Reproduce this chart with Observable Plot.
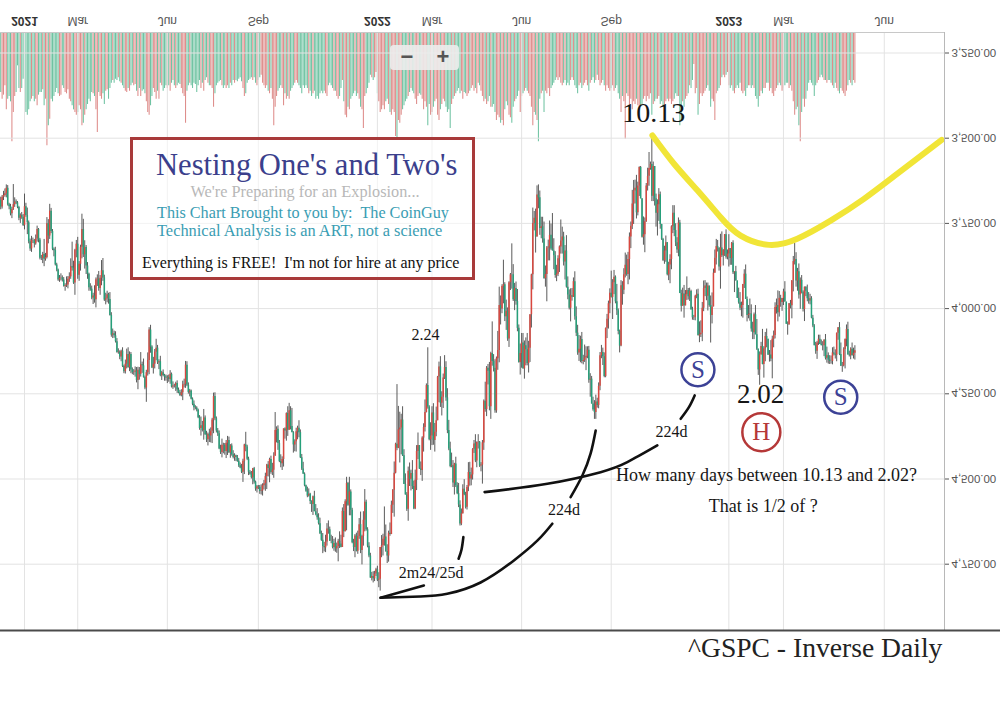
<!DOCTYPE html>
<html>
<head>
<meta charset="utf-8">
<script src="https://cdn.jsdelivr.net/npm/d3@7"></script>
<script src="https://cdn.jsdelivr.net/npm/@observablehq/plot@0.6"></script>
<style>
html,body{margin:0;padding:0;background:#fff;}
#wrap{position:relative;width:1000px;height:728px;overflow:hidden;background:#fff;}
#overlay text{white-space:pre;}
</style>
</head>
<body>
<div id="wrap">
<svg id="overlay" width="1000" height="728" style="position:absolute;left:0;top:0;z-index:5;pointer-events:none" font-family="'Liberation Serif','Times New Roman',serif">
  <line x1="0" y1="32.5" x2="944" y2="32.5" stroke="#c8c8c8"/>
  <line x1="944.5" y1="32" x2="944.5" y2="630" stroke="#b8b8b8"/>
  <line x1="0" y1="630.5" x2="1000" y2="630.5" stroke="#4a4a4a" stroke-width="2"/>
  <rect x="390" y="45" width="69" height="25" rx="4" fill="rgba(236,236,236,0.9)"/>
  <text x="407" y="64" font-size="22" font-weight="bold" fill="#555" text-anchor="middle" font-family="'Liberation Sans',Arial,sans-serif">−</text>
  <text x="443" y="64" font-size="22" font-weight="bold" fill="#555" text-anchor="middle" font-family="'Liberation Sans',Arial,sans-serif">+</text>
  <rect x="131.5" y="138.5" width="342" height="140" fill="rgba(255,255,255,0.55)" stroke="#a83a3a" stroke-width="3"/>
  <text x="156" y="175" font-size="30.6" fill="#3b3f8c">Nesting One's and Two's</text>
  <text x="190.5" y="197" font-size="16.3" fill="#b8b8b8">We're Preparing for an Explosion...</text>
  <text x="157" y="217.5" font-size="16.2" fill="#3a9db3">This Chart Brought to you by:  The CoinGuy</text>
  <text x="157" y="235.5" font-size="16.4" fill="#3a9db3">Technical Analysis is an ART, not a science</text>
  <text x="142" y="268" font-size="16" fill="#111">Everything is FREE!  I'm not for hire at any price</text>
  <text x="688" y="657" font-size="27.6" fill="#222">^GSPC - Inverse Daily</text>
</svg>
</div>
<script>
// ---------- S&P 500 daily bars, Dec 8 2020 .. May 12 2023 (open = previous close) ----------
const firstOpen = 3683;
const close2020 = [3702,3673,3668,3663,3647,3695,3701,3722,3709,3695,3687,3690,3703,3735,3727,3732,3756];
const close2021 = [
3701,3727,3748,3804,3825,3800,3801,3810,3796,3768,3799,3852,3853,3841,3855,3850,3751,3787,3714,
3774,3826,3830,3872,3887,3916,3911,3910,3916,3935,3933,3931,3914,3907,3877,3881,3925,3829,3811,
3902,3870,3820,3768,3842,3821,3875,3899,3939,3943,3969,3963,3974,3915,3913,3941,3911,3889,3910,3975,3971,3959,3973,
4020,4078,4074,4080,4097,4129,4128,4142,4125,4170,4185,4163,4135,4173,4135,4180,4188,4187,4183,4211,4181,
4193,4165,4168,4202,4233,4188,4152,4063,4113,4174,4163,4128,4116,4159,4156,4197,4188,4196,4201,4204,
4202,4208,4193,4230,4227,4227,4220,4239,4247,4255,4247,4224,4222,4166,4225,4246,4242,4266,4281,4291,4292,4298,
4320,4352,4344,4358,4321,4370,4385,4369,4374,4360,4327,4258,4323,4359,4367,4412,4422,4401,4401,4419,4395,
4387,4423,4403,4429,4437,4432,4437,4448,4461,4468,4480,4448,4400,4406,4442,4480,4486,4496,4470,4509,4529,4523,
4524,4537,4535,4520,4514,4493,4459,4469,4443,4481,4474,4433,4358,4354,4396,4449,4455,4443,4353,4359,4308,
4357,4300,4346,4364,4400,4391,4361,4351,4364,4438,4471,4486,4520,4536,4550,4545,4566,4575,4552,4596,4605,
4614,4631,4661,4680,4698,4702,4685,4647,4649,4683,4683,4701,4689,4705,4698,4683,4691,4701,4595,4655,4567,
4513,4577,4538,4592,4687,4701,4667,4712,4669,4634,4710,4669,4621,4568,4649,4697,4726,4791,4786,4793,4779,4766];
const close2022 = [
4797,4794,4701,4696,4677,4670,4713,4726,4659,4663,4577,4533,4483,4398,4410,4356,4350,4327,4432,4516,
4547,4589,4477,4501,4484,4522,4587,4504,4419,4402,4471,4475,4380,4349,4305,4226,4289,4385,4374,
4306,4387,4363,4329,4201,4171,4278,4260,4204,4173,4262,4358,4412,4463,4461,4512,4456,4520,4543,4576,4632,4602,4530,
4546,4583,4525,4481,4500,4488,4413,4397,4447,4393,4392,4462,4459,4394,4272,4296,4175,4184,4288,4132,
4155,4175,4300,4147,4123,3991,4001,3935,3930,4024,4008,4089,3924,3901,3901,3974,3941,3979,4058,4158,4132,
4101,4177,4109,4121,4161,4116,4018,3901,3750,3735,3790,3667,3675,3765,3760,3796,3912,3900,3822,3819,3785,
3825,3831,3845,3903,3899,3854,3819,3802,3790,3863,3831,3937,3960,3999,3962,3967,3921,4024,4072,4130,
4119,4091,4155,4152,4145,4140,4122,4210,4207,4280,4297,4305,4274,4284,4228,4138,4129,4141,4199,4058,4031,3986,3955,
3967,3924,3908,3980,4006,4067,4110,3933,3946,3901,3873,3900,3856,3790,3758,3693,3655,3647,3719,3640,3586,
3678,3791,3783,3745,3640,3612,3589,3577,3670,3583,3678,3720,3695,3666,3753,3797,3859,3831,3807,3901,3872,
3856,3760,3720,3771,3807,3828,3749,3956,3993,3957,3992,3959,3947,3965,3950,4004,4027,4026,3964,3958,4080,
4077,4072,3999,3941,3934,3964,3934,3991,4020,3995,3896,3852,3818,3822,3878,3822,3845,3829,3783,3849,3840];
const close2023 = [
3824,3853,3808,3895,3892,3919,3970,3983,3999,3991,3929,3899,3973,4020,4017,4016,4060,4071,4018,4077,
4119,4180,4136,4111,4164,4118,4082,4090,4137,4136,4148,4090,4079,3997,3991,4012,3970,3982,3970,
3951,3981,4046,4048,3986,3992,3918,3862,3856,3919,3892,3960,3917,3952,4003,3937,3949,3971,3978,3971,4028,4051,4109,
4125,4101,4090,4105,4109,4109,4092,4146,4138,4151,4155,4155,4130,4134,4137,4072,4056,4135,4169,
4168,4120,4091,4061,4136,4138,4119,4138,4131,4124];

// upper wick (high above body) and lower wick (low below body), index points
const hw2020 = [8,6,10,5,12,4,9,6,14,3,8,5,4,7,15,6,3];
const lw2020 = [10,5,12,14,10,8,4,7,6,59,12,6,4,3,5,9,8];
const hw2021 = [
13,5,35,6,7,10,8,12,4,9,8,5,6,15,22,6,4,23,10,
6,4,18,3,5,4,7,8,6,2,14,5,11,9,7,9,4,36,22,
12,18,20,34,8,42,25,15,10,6,5,19,10,24,20,8,20,22,10,4,14,12,14,
2,6,10,7,4,2,5,8,14,3,6,7,14,2,12,11,6,8,14,7,27,
17,8,22,2,5,42,10,42,18,2,18,14,25,5,20,3,14,4,12,9,
16,8,14,3,7,6,16,10,3,3,4,23,9,12,4,5,13,2,4,9,5,5,
3,5,22,4,28,2,8,18,19,20,36,40,6,6,8,2,6,16,25,11,21,
36,2,16,4,4,11,12,3,5,2,4,30,39,14,4,10,3,4,21,6,7,12,
7,8,10,15,12,22,38,25,42,5,9,24,0,36,20,3,12,20,22,24,30,
18,0,10,0,24,20,30,24,15,2,4,0,3,3,5,3,9,23,32,0,3,
7,4,2,3,21,12,14,12,13,0,7,4,11,10,13,45,13,1,0,17,0,
85,3,31,16,3,12,30,2,9,8,9,42,28,34,4,5,5,0,8,12,8,7];
const lw2021 = [
37,10,22,5,8,12,7,4,12,10,3,5,8,6,44,12,18,12,20,
8,6,4,10,5,3,8,12,6,7,6,24,8,12,23,72,20,3,11,
20,8,6,45,30,20,6,10,3,12,9,8,30,5,12,22,8,30,36,8,16,10,4,
20,8,14,8,12,9,10,4,3,10,4,12,16,20,8,6,6,8,12,10,9,
8,36,8,20,4,7,22,7,14,4,20,8,26,8,6,16,4,8,3,6,
5,7,11,4,12,5,4,8,6,7,9,11,15,11,10,7,5,3,4,10,6,4,
3,6,26,13,25,6,10,4,15,10,5,10,11,5,7,8,11,18,6,5,8,
12,10,4,6,12,6,2,6,8,8,11,6,2,37,5,6,5,8,1,4,3,4,
4,5,18,6,10,10,2,10,4,10,20,10,53,7,10,9,20,8,0,3,2,
20,22,12,53,3,6,10,6,22,8,10,20,4,2,12,16,3,2,2,16,21,
18,12,16,8,20,12,20,16,24,8,18,14,12,16,10,6,28,26,10,20,6,
18,3,43,6,6,10,4,8,16,18,37,4,25,37,6,6,10,8,12,14,8,4];
const hw2022 = [
4,22,35,30,30,20,2,22,18,5,0,24,79,2,7,1,97,79,2,0,
0,6,35,21,34,9,3,3,30,24,1,15,32,41,13,1,6,3,31,
28,14,34,13,0,75,12,37,33,4,10,9,5,4,4,13,35,5,3,8,6,5,1,
3,5,8,12,21,20,15,12,5,20,19,4,17,56,22,8,21,40,12,37,
14,11,7,7,34,36,47,14,51,14,40,7,25,23,42,5,32,11,10,2,37,
43,0,30,47,7,28,42,39,44,22,47,0,32,20,30,12,2,25,80,38,41,
4,0,41,8,18,7,40,21,38,12,53,3,14,5,40,11,0,10,10,7,
25,40,7,10,6,37,7,9,50,0,4,20,20,8,10,13,9,26,4,4,30,29,29,
2,65,35,6,14,10,20,2,44,13,9,5,30,60,34,10,60,38,18,9,31,
0,2,23,53,2,15,29,5,16,16,21,41,67,49,14,3,3,11,33,3,17,
55,30,20,18,11,10,20,0,17,0,36,0,17,10,14,0,7,8,10,7,0,
20,8,25,10,24,13,43,5,81,25,0,0,20,12,12,65,5,30,18,6,8];
const lw2022 = [
10,19,0,30,15,88,35,20,6,30,12,2,33,3,175,69,46,17,39,18,
31,7,12,24,10,38,16,30,17,37,0,21,4,11,37,5,111,4,39,
18,27,26,40,2,14,30,16,12,35,17,27,30,20,37,15,2,20,9,30,12,14,13,
28,7,6,29,30,20,2,10,27,2,22,2,7,7,4,56,5,11,26,4,
93,20,25,5,56,54,28,5,72,6,33,10,3,4,91,30,15,19,35,10,28,
28,28,14,23,48,20,0,2,45,20,27,27,30,20,28,28,50,25,4,20,42,
33,104,36,12,26,9,3,62,29,14,16,45,30,15,20,21,11,29,29,23,
40,10,21,15,38,28,10,11,16,8,20,27,20,11,10,9,21,13,11,1,14,8,13,
65,9,20,4,51,5,4,15,12,18,36,30,21,12,12,40,31,24,38,11,2,
3,0,52,11,7,24,47,7,86,13,0,14,14,18,8,0,3,14,20,1,8,
14,3,22,22,20,15,15,8,10,17,25,12,40,6,10,4,8,6,3,13,15,
38,36,17,22,16,9,9,0,28,41,12,24,21,18,0,40,47,2,0,14,12];
const hw2023 = [
38,20,20,5,58,0,0,4,7,25,37,12,0,19,10,20,9,20,20,0,
4,16,45,0,1,40,38,25,0,20,8,58,25,10,19,27,13,14,26,
21,0,0,30,0,9,38,33,10,18,30,12,42,5,7,35,16,9,9,11,2,5,0,
9,24,7,0,0,15,32,5,14,12,9,8,10,5,11,19,21,3,1,
18,3,57,21,0,4,12,1,10,20];
const lw2023 = [
41,0,2,7,0,16,0,30,30,10,0,13,27,7,26,44,27,20,5,27,
45,0,9,12,50,6,12,22,0,13,42,9,13,14,19,43,20,9,0,
8,30,0,7,1,10,0,15,47,20,10,23,7,14,4,0,1,18,18,13,6,8,4,
10,5,12,12,13,12,0,16,25,8,13,16,15,17,13,0,0,15,34,
10,5,2,13,21,11,4,18,15,15];

// volume (hundreds of millions of shares)
const vol2020 = [45,50,47,40,58,50,48,52,82,60,48,45,25,42,45,42,35];
const vol2021 = [
55,60,62,58,52,50,48,52,50,55,47,45,45,43,55,50,85,70,65,
50,52,48,45,42,46,48,47,40,42,45,46,43,50,52,55,58,60,62,
60,55,58,70,68,62,58,54,50,52,45,46,48,58,75,45,48,50,46,54,44,43,50,
42,38,36,38,35,36,34,37,38,40,42,44,45,42,44,40,38,40,39,44,48,
42,48,44,43,46,52,60,62,55,48,42,45,50,44,50,38,40,44,42,40,
42,40,44,38,36,40,42,40,38,39,42,46,48,68,44,40,38,40,42,38,39,45,
40,36,42,38,44,36,34,38,40,40,42,56,46,40,38,37,36,40,42,40,42,
40,42,38,40,36,38,36,37,35,34,37,42,48,46,38,36,35,34,36,34,38,40,
36,34,32,38,40,42,40,44,46,42,50,70,56,48,44,42,40,42,55,46,50,
48,50,44,42,40,38,36,38,40,42,46,40,42,40,42,46,44,48,46,44,50,
48,50,46,44,46,44,46,48,40,38,40,42,44,44,48,50,48,42,36,52,62,
64,56,58,50,48,46,44,48,46,50,56,58,72,48,46,42,38,32,34,36,34,30];
const vol2022 = [
46,52,60,58,55,58,52,50,54,60,62,58,60,78,80,66,68,62,58,55,
52,50,48,45,42,44,46,50,54,48,46,47,50,58,52,56,70,54,62,
60,56,52,50,62,66,58,54,50,52,56,60,58,72,54,50,48,46,44,42,46,44,50,
45,46,48,46,44,42,40,44,42,46,38,40,44,48,52,50,54,52,48,56,
56,54,60,66,62,64,68,66,70,58,52,55,62,64,68,56,52,50,48,44,60,
48,46,44,42,44,46,48,56,70,60,62,66,82,50,46,44,60,44,46,42,48,
42,40,38,36,34,36,34,38,40,38,36,40,38,40,36,34,36,40,42,46,
40,38,42,40,38,36,40,44,38,36,34,38,36,32,36,40,38,36,40,44,40,42,44,
42,40,44,42,40,46,50,60,48,52,80,46,48,54,50,58,52,54,50,55,58,
56,54,50,48,52,48,50,46,62,54,52,50,50,48,54,52,56,54,52,50,52,
50,54,52,50,46,48,48,70,66,52,56,50,48,46,40,42,36,24,46,42,62,
54,46,48,46,44,42,40,44,56,50,52,66,46,44,42,40,34,32,34,32,30];
const vol2023 = [
40,42,40,44,46,42,40,42,38,44,46,44,48,42,40,40,42,40,42,48,
50,56,48,44,46,42,42,38,38,44,42,46,48,44,42,40,38,40,44,
42,40,38,38,42,40,44,52,62,58,56,70,82,60,50,56,50,44,38,36,38,40,48,
40,38,36,34,32,34,36,36,38,36,36,38,40,42,38,42,44,46,42,
44,46,48,44,40,36,38,40,36,38];

// axis ticks (bar index of first session of each period) and labels
const tickIndex = [17, 55, 119, 184, 269, 308, 372, 436, 520, 559, 631];
const tickLabel = ["2021","Mar","Jun","Sep","2022","Mar","Jun","Sep","2023","Mar","Jun"];
const priceTicks = [3250, 3500, 3750, 4000, 4250, 4500, 4750];

// annotations, in (bar index, price)
const yellowI = [465.4, 480.8, 497.5, 514.1, 528.4, 548.6, 568.9, 592.7, 616.5, 640.4, 672];
const yellowP = [3492, 3575, 3653, 3732, 3786, 3813, 3795, 3742, 3678, 3604, 3505];
const arcSeg = ["A1","A1","A1","A2","A2","A2","B1","B1","B1","B1","B1","B1","B1","B2","B2","B2","B2","C1","C1","C1","C1","C1","C2","C2","C2"];
const arcI = [271.3,282,302.2, 327,329.1,330.4, 271.3,299.9,318.9,342.7,366.5,383.4,393.9, 407,415.4,421.3,424.9, 345.6,390.4,428.4,447.5,468.9, 485.6,491.5,495.6];
const arcP = [4848.5,4835.8,4812.4, 4734,4706.7,4670.6, 4848.5,4844.6,4836.7,4803.6,4739,4680.3,4631.3, 4553.3,4489.6,4425.1,4357.6, 4538.6,4514,4479.9,4450.6,4401.6, 4323.3,4289.2,4254.9];
const noteText = ["10.13","2.24","2.02","224d","224d","2m24/25d","How many days between 10.13 and 2.02?","That is 1/2 of ?"];
const noteI = [466.3, 303.4, 542.7, 479.1, 402.2, 307.4, 546.9, 544.5];
const noteP = [3426.6, 4076, 4252.6, 4362.6, 4589.4, 4775.7, 4489.6, 4580.6];
const noteSize = [28, 16, 27, 16, 16, 16, 18, 18];
const ringLabel = ["S", "H", "S"];
const ringI = [497.9, 543.2, 599.9];
const ringP = [4179.5, 4362.6, 4259.9];
const ringColor = ["#3c4296", "#b53838", "#3c4296"];

// ---------- build ----------
const closes = [...close2020, ...close2021, ...close2022, ...close2023];
const his = [...hw2020, ...hw2021, ...hw2022, ...hw2023];
const los = [...lw2020, ...lw2021, ...lw2022, ...lw2023];
const vols = [...vol2020, ...vol2021, ...vol2022, ...vol2023];
if (his.length !== closes.length || los.length !== closes.length || vols.length !== closes.length)
  throw new Error(`length mismatch c${closes.length} h${his.length} l${los.length} v${vols.length}`);
let prev = firstOpen;
const bars = closes.map((c, i) => {
  const o = prev; prev = c;
  return {i, open: o, close: c, high: Math.max(o, c) + his[i], low: Math.min(o, c) - los[i], vol: vols[i], up: c >= o};
});
const labelOf = new Map(tickIndex.map((t, k) => [t, tickLabel[k]]));
const yearTicks = tickIndex.filter(t => /^\d{4}$/.test(labelOf.get(t)));
const monthTicks = tickIndex.filter(t => !/^\d{4}$/.test(labelOf.get(t)));
const yellow = yellowI.map((x, k) => ({x, y: yellowP[k]}));
const arcs = arcI.map((x, k) => ({x, y: arcP[k], seg: arcSeg[k]}));
const notes = noteText.map((t, k) => ({t, x: noteI[k], y: noteP[k], s: noteSize[k]}));
const rings = ringLabel.map((t, k) => ({t, x: ringI[k], y: ringP[k], c: ringColor[k]}));
const xDomain = [-0.15, 674];
const serif = "'Liberation Serif','Times New Roman',serif";

const volPlot = Plot.plot({
  width: 1000, height: 160, marginTop: 32, marginRight: 56, marginBottom: 0, marginLeft: 0,
  style: {background: "transparent"},
  x: {type: "linear", domain: xDomain, range: [0, 944], axis: null},
  y: {type: "linear", domain: [0, 90], range: [32, 152], axis: null},
  marks: [
    Plot.ruleX(bars, {x: "i", y1: 0, y2: "vol", stroke: d => d.up ? "#6fc3a2" : "#de8c8a", strokeWidth: 1.05})
  ]
});

const main = Plot.plot({
  width: 1000, height: 631, marginTop: 32, marginRight: 56, marginBottom: 0, marginLeft: 0,
  style: {background: "transparent", fontFamily: "'Liberation Sans',Arial,sans-serif", overflow: "visible"},
  x: {type: "linear", domain: xDomain, range: [0, 944]},
  y: {type: "linear", domain: [3250, 4750], range: [52.5, 563.7]},
  marks: [
    Plot.gridX(tickIndex, {stroke: "#e3e3e3", strokeOpacity: 1}),
    Plot.gridY(priceTicks, {stroke: "#e3e3e3", strokeOpacity: 1}),
    Plot.ruleX(bars, {x: "i", y1: "low", y2: "high", stroke: "#474747", strokeWidth: 0.9}),
    Plot.ruleX(bars, {x: "i", y1: "open", y2: "close", stroke: d => d.up ? "#26a07a" : "#d9473f", strokeWidth: 1.5}),
    Plot.axisY(priceTicks, {anchor: "right", tickSize: 4, tickPadding: 3, tickFormat: d3.format(",.2f"), fontSize: 11.5, color: "#555", label: null}),
    Plot.axisX(monthTicks, {anchor: "top", tickSize: 0, tickPadding: 8, tickFormat: d => labelOf.get(d), fontSize: 12, color: "#555", label: null}),
    Plot.axisX(yearTicks, {anchor: "top", tickSize: 0, tickPadding: 8, tickFormat: d => labelOf.get(d), fontSize: 12, fontWeight: "bold", color: "#333", label: null}),
    Plot.line(yellow, {x: "x", y: "y", curve: "natural", stroke: "#f1e537", strokeWidth: 6, strokeLinecap: "round"}),
    Plot.line(arcs, {x: "x", y: "y", z: "seg", curve: "natural", stroke: "#111", strokeWidth: 2.6, strokeLinecap: "round"}),
    Plot.dot(rings.filter(d => d.t === "S"), {x: "x", y: "y", r: 16.5, stroke: "c", strokeWidth: 2.5, fill: "none"}),
    Plot.dot(rings.filter(d => d.t === "H"), {x: "x", y: "y", r: 19, stroke: "c", strokeWidth: 2.5, fill: "none"}),
    Plot.text(rings, {x: "x", y: "y", text: "t", fill: "c", fontSize: 25, fontFamily: serif}),
    Plot.text(notes, {x: "x", y: "y", text: "t", fontSize: "s", fill: "#161616", fontFamily: serif})
  ]
});

const wrap = document.getElementById("wrap");
for (const [svg, z] of [[volPlot, 1], [main, 2]]) {
  svg.style.position = "absolute"; svg.style.left = "0px"; svg.style.top = "0px"; svg.style.zIndex = z;
  wrap.appendChild(svg);
}
// the chart is an inverted (mirrored) view: flip axis tick labels vertically in place
main.querySelectorAll('g[aria-label$="tick label"] text').forEach(t => {
  const b = t.getBBox();
  const cy = b.y + b.height / 2;
  const tr = t.getAttribute("transform") || "";
  t.setAttribute("transform", `${tr} translate(0,${2 * cy}) scale(1,-1)`);
});
</script>
</body>
</html>
